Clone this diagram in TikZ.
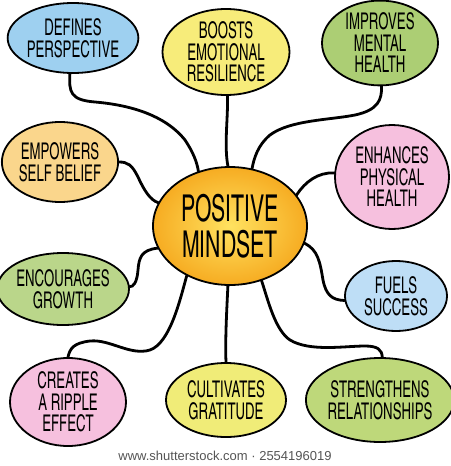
\documentclass[tikz,border=0pt]{standalone}
\usepackage{fontspec}
\newfontfamily\hand{TeX Gyre Heros Cn}[FakeStretch=0.7]
\newfontfamily\footfont{Liberation Sans}
\usetikzlibrary{shapes.geometric}
\definecolor{cblue}{RGB}{158,208,240}
\definecolor{cblueL}{RGB}{190,222,246}
\definecolor{cyellow}{RGB}{247,236,122}
\definecolor{cyellowB}{RGB}{240,236,120}
\definecolor{cgreen}{RGB}{172,206,116}
\definecolor{cgreenL}{RGB}{186,214,138}
\definecolor{cgreenS}{RGB}{190,216,122}
\definecolor{cpink}{RGB}{246,192,222}
\definecolor{cpeach}{RGB}{250,214,140}
\definecolor{pminner}{RGB}{255,226,96}
\definecolor{pmouter}{RGB}{246,172,34}
\definecolor{footgray}{RGB}{85,85,85}
\begin{document}
\begin{tikzpicture}[x=1pt,y=1pt,
  bub/.style={ellipse, draw=black, line width=1.8pt, inner sep=0pt, align=center,
    font=\hand\fontsize{23}{21.5}\selectfont, text=black},
  conn/.style={line width=2.8pt, line cap=round, draw=black}]
\useasboundingbox (0,0) rectangle (450,-466);
\fill[white] (0,0) rectangle (450,-466);

% nodes
\node[bub, fill=cblue, minimum width=130pt, minimum height=70pt] (def) at (73,-38) {DEFINES\\PERSPECTIVE};
\node[bub, fill=cyellow, minimum width=127pt, minimum height=86pt] (boo) at (226,-52) {BOOSTS\\EMOTIONAL\\RESILIENCE};
\node[bub, fill=cgreen, minimum width=116pt, minimum height=80pt] (imp) at (380,-43) {IMPROVES\\MENTAL\\HEALTH};
\node[bub, fill=cpink, minimum width=114pt, minimum height=104pt] (enh) at (392,-177) {ENHANCES\\PHYSICAL\\HEALTH};
\node[bub, fill=cpeach, minimum width=116pt, minimum height=80pt] (emp) at (60,-162) {EMPOWERS\\SELF BELIEF};
\node[bub, shading=radial, inner color=pminner, outer color=pmouter, minimum width=154pt, minimum height=118pt,
  font=\hand\fontsize{37}{36}\selectfont] (pm) at (230,-226) {POSITIVE\\MINDSET};
\node[bub, fill=cgreenL, minimum width=124pt, minimum height=72pt] (enc) at (63,-289) {ENCOURAGES\\GROWTH};
\node[bub, fill=cblueL, minimum width=102pt, minimum height=70pt] (fue) at (396,-296) {FUELS\\SUCCESS};
\node[bub, fill=cpink, minimum width=116pt, minimum height=88pt] (rip) at (68,-402) {CREATES\\A RIPPLE\\EFFECT};
\node[bub, fill=cyellowB, minimum width=120pt, minimum height=74pt] (cul) at (226,-400) {CULTIVATES\\GRATITUDE};
\node[bub, fill=cgreenS, minimum width=136pt, minimum height=84pt] (str) at (380,-400) {STRENGTHENS\\RELATIONSHIPS};

% connectors
\draw[conn] (def.-95) .. controls (69,-92) and (70,-100) .. (95,-102)
  .. controls (130,-105) and (165,-115) .. (185,-140)
  .. controls (193,-152) and (197,-162) .. (pm.120);
\draw[conn] (boo.-88) .. controls (228,-120) and (224,-145) .. (pm.92);
\draw[conn] (imp.-88) .. controls (382,-100) and (378,-110) .. (355,-115)
  .. controls (330,-120) and (290,-120) .. (270,-135)
  .. controls (258,-145) and (254,-158) .. (pm.69);
\draw[conn] (enh.176) .. controls (318,-172) and (305,-182) .. (pm.25);
\draw[conn] (emp.0) .. controls (128,-162) and (132,-165) .. (138,-177)
  .. controls (144,-190) and (150,-200) .. (pm.162);
\draw[conn] (enc.2) .. controls (133,-287) and (137,-283) .. (138,-270)
  .. controls (139,-258) and (141,-250) .. (pm.197);
\draw[conn] (rip.north) .. controls (70,-348) and (74,-343) .. (90,-341)
  .. controls (110,-339) and (130,-356) .. (150,-350)
  .. controls (170,-343) and (180,-300) .. (pm.229);
\draw[conn] (cul.north) .. controls (225,-340) and (227,-305) .. (pm.268);
\draw[conn] (fue.185) .. controls (332,-300) and (326,-295) .. (323,-280)
  .. controls (320,-262) and (318,-250) .. (pm.-13);
\draw[conn] (str.87) .. controls (382,-350) and (378,-346) .. (365,-346)
  .. controls (345,-346) and (310,-352) .. (290,-340)
  .. controls (275,-330) and (268,-300) .. (pm.-60);

% footer
\node[font=\footfont\fontsize{13}{15}\selectfont, text=footgray] (foot) at (225,-456) {www.shutterstock.com · 2554196019};
\end{tikzpicture}
\end{document}
